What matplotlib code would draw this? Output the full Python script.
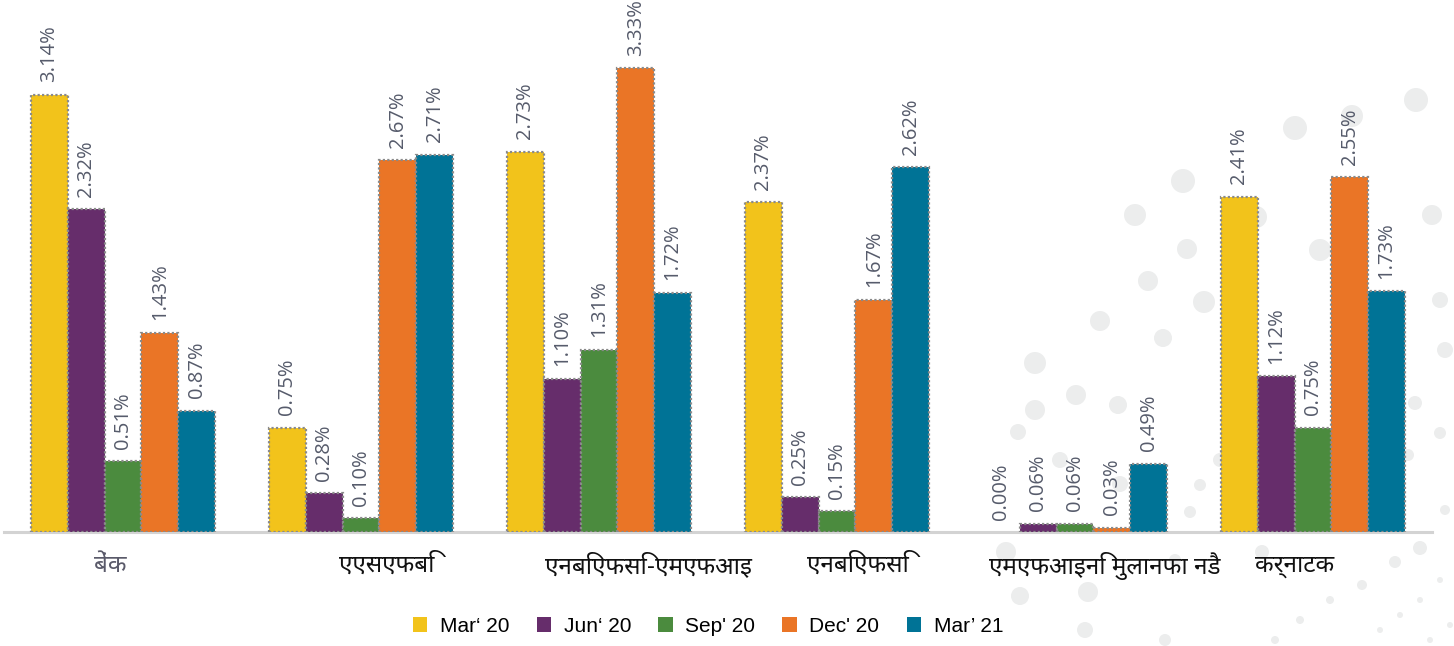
import numpy as np
import matplotlib.pyplot as plt
from matplotlib.patches import Circle

W, H = 1454, 646

categories = ["बेंक", "एएसएफबि", "एनबिएफसि-एमएफआइ", "एनबिएफसि",
              "एमएफआइनि मुलानफा नडै", "कर्नाटक"]
series = ["Mar‘ 20", "Jun‘ 20", "Sep' 20", "Dec' 20", "Mar’ 21"]
mar20 = [3.14, 0.75, 2.73, 2.37, 0.00, 2.41]
jun20 = [2.32, 0.28, 1.10, 0.25, 0.06, 1.12]
sep20 = [0.51, 0.10, 1.31, 0.15, 0.06, 0.75]
dec20 = [1.43, 2.67, 3.33, 1.67, 0.03, 2.55]
mar21 = [0.87, 2.71, 1.72, 2.62, 0.49, 1.73]
values = [mar20, jun20, sep20, dec20, mar21]
colors = ["#F2C31B", "#662D6B", "#4B8B3E", "#EA7526", "#007396"]

# label centres (pixels) - labels are not centred under the groups
label_px = [110, 387, 648, 858, 1105, 1295]

dev_fonts = ["Noto Sans Devanagari", "Lohit Devanagari", "Noto Sans",
             "DejaVu Sans"]

fig = plt.figure(figsize=(W / 100, H / 100), dpi=100)

# decorative background dots (pixel coords, radius)
dots = [(1416, 100, 12), (1295, 128, 12), (1183, 181, 12), (1135, 215, 11),
        (1187, 249, 10), (1148, 281, 10), (1100, 321, 10), (1163, 338, 9),
        (1035, 363, 11), (1076, 395, 10), (1118, 405, 9), (1035, 410, 10),
        (1018, 432, 8), (1242, 375, 10), (1204, 302, 11), (1320, 250, 11),
        (1256, 217, 11), (1352, 116, 11), (1432, 215, 10), (1445, 350, 8),
        (1440, 300, 8), (1415, 403, 7), (1440, 433, 6), (1408, 455, 6),
        (1380, 468, 5), (1445, 510, 5), (1200, 485, 6), (1190, 512, 6),
        (1220, 460, 7), (1120, 484, 8), (1060, 460, 8), (1006, 552, 10),
        (1020, 596, 9), (1088, 592, 10), (1262, 552, 7), (1175, 560, 6),
        (1420, 548, 7), (1395, 562, 6), (1362, 585, 5), (1330, 600, 4),
        (1300, 620, 4), (1275, 640, 4), (1440, 580, 3), (1420, 600, 3),
        (1400, 615, 3), (1380, 630, 3), (1450, 625, 3), (1430, 640, 3),
        (1085, 630, 8), (1165, 640, 6)]
bg = fig.add_axes([0, 0, 1, 1], zorder=0)
bg.set_xlim(0, W)
bg.set_ylim(H, 0)
bg.axis("off")
for (cx, cy, r) in dots:
    bg.add_patch(Circle((cx, cy), r, color="#ECEDED", lw=0))

# main axes: baseline at y=532 px, group spacing 238 px, bar width 36.8 px
base = 532
ax = fig.add_axes([0, 1 - base / H, 1, base / H], zorder=1)
ax.patch.set_alpha(0)
g0, gs = 123, 238
ax.set_xlim((0 - g0) / gs, (W - g0) / gs)
ax.set_ylim(0, base / 139.2)
ax.axis("off")

ax.plot([4 / W, 1432 / W], [0, 0], color="#D3D3D3", lw=2.2,
        transform=ax.transAxes, clip_on=False, zorder=0)

x = np.arange(len(categories))
bw = 36.8 / gs
for i, (vals, col, name) in enumerate(zip(values, colors, series)):
    xs = x + (i - 2) * bw
    bars = ax.bar(xs, vals, bw, color=col, edgecolor="#8a8a8a",
                  linestyle=(0, (1, 1)), linewidth=1.6, label=name)
    for b, xx, v in zip(bars, xs, vals):
        if v == 0:
            b.set_edgecolor("none")
        ax.annotate("%.2f%%" % v, (xx, v), xytext=(0, 9),
                    textcoords="offset points", rotation=90,
                    ha="center", va="bottom", fontsize=14.5,
                    color="#565B6B", family=["Open Sans", "DejaVu Sans"])

for k, (lab, px) in enumerate(zip(categories, label_px)):
    fig.text(px / W, 1 - 566 / H, lab, ha="center", va="center",
             fontsize=17.5, color="#5A5A6A" if k == 0 else "#111111",
             family=dev_fonts)

fig.legend(loc="center", bbox_to_anchor=(708 / W, 1 - 626 / H), ncol=5,
           frameon=False, handlelength=0.7, handleheight=0.7,
           handletextpad=0.6, columnspacing=1.3,
           prop={"family": "Liberation Sans", "size": 15})
for h in fig.legends[0].legend_handles:
    h.set_edgecolor("none")

fig.savefig("out.png", dpi=100)
